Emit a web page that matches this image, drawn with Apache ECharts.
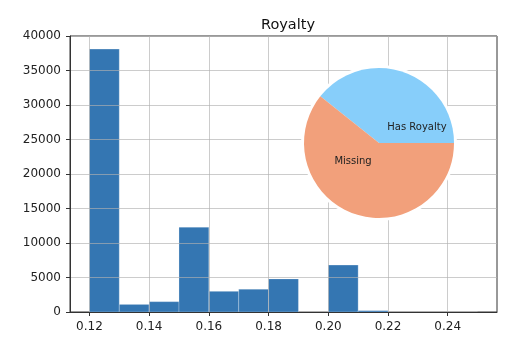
<!DOCTYPE html>
<html>
<head>
<meta charset="utf-8">
<script src="https://cdn.jsdelivr.net/npm/echarts@6/dist/echarts.min.js"></script>
<style>html,body{margin:0;padding:0;background:#fff}#c{width:531px;height:346px}</style>
</head>
<body>
<div id="c"></div>
<script>
const binEdges = [0.12,0.13,0.14,0.15,0.16,0.17,0.18,0.19,0.20,0.21,0.22,0.23,0.24,0.25];
const binCounts = [38100,1100,1500,12300,3000,3300,4800,0,6800,200,0,0,0];
const xTicks = [0.12,0.14,0.16,0.18,0.20,0.22,0.24];
const pieNames = ['Has Royalty','Missing'];
const pieValues = [71100,109800];
const titleText = 'Royalty';

const histData = binCounts.map((c,i)=>[binEdges[i], binEdges[i+1], c]);
const font = 'DejaVu Sans';
const chart = echarts.init(document.getElementById('c'), null, {renderer:'canvas'});
const lo = binEdges[0], hi = binEdges[binEdges.length-1], pad = (hi-lo)*0.05;
const labelOffsets = [[31,4],[-19,-1]];

chart.setOption({
  animation:false,
  backgroundColor:'#fff',
  title:{text:titleText, left:283, top:13, textAlign:'center',
    textStyle:{fontFamily:font, fontSize:14.5, fontWeight:'normal', color:'#111'}},
  grid:{left:70, right:34, top:36, bottom:34, show:true, borderColor:'#333', borderWidth:1, backgroundColor:'transparent'},
  xAxis:{type:'value', min:lo-pad, max:hi+pad, z:3,
    axisLine:{show:true, onZero:false, lineStyle:{color:'#333', width:1}},
    axisTick:{show:true, length:4, customValues:xTicks, lineStyle:{color:'#333'}},
    axisLabel:{customValues:xTicks, margin:9, fontFamily:font, fontSize:12, color:'#222', formatter:v=>v.toFixed(2)},
    splitLine:{show:true, lineStyle:{color:'rgba(176,176,176,0.65)', width:1}}},
  yAxis:{type:'value', min:0, max:40000, interval:5000, z:3,
    axisLine:{show:true, lineStyle:{color:'#333', width:1}},
    axisTick:{show:true, length:4, lineStyle:{color:'#333'}},
    axisLabel:{margin:9, fontFamily:font, fontSize:12, color:'#222', formatter:v=>String(v)},
    splitLine:{show:true, lineStyle:{color:'rgba(176,176,176,0.65)', width:1}}},
  series:[
    {type:'custom', z:2, data:histData, encode:{x:[0,1], y:2},
     renderItem:(params, api)=>{
       const p0 = api.coord([api.value(0), api.value(2)]);
       const p1 = api.coord([api.value(1), 0]);
       return {type:'rect', shape:{x:p0[0], y:p0[1], width:p1[0]-p0[0], height:p1[1]-p0[1]},
         style:{fill:'#3476b2', stroke:'rgba(255,255,255,0.25)', lineWidth:1}};
     }},
    {type:'pie', z:5, silent:true, center:[379,143], radius:[0,78], startAngle:0, clockwise:false,
     data:[{value:1, name:'halo'}], itemStyle:{color:'#fff'}, label:{show:false}, labelLine:{show:false}},
    {type:'pie', z:6, silent:true, center:[379,143], radius:[0,75], startAngle:0, clockwise:false,
     data:pieNames.map((n,i)=>({name:n, value:pieValues[i], itemStyle:{color:i===0?'#87CEFA':'#F2A07B'}})),
     label:{show:false}, labelLine:{show:false}},
    {type:'pie', z:7, silent:true, center:[379,143], radius:[0,36], startAngle:0, clockwise:false,
     data:pieNames.map((n,i)=>({name:n, value:pieValues[i], label:{offset:labelOffsets[i]}})),
     itemStyle:{color:'rgba(0,0,0,0)'},
     label:{show:true, position:'inside', formatter:'{b}', fontFamily:font, fontSize:10, color:'#222'},
     labelLine:{show:false}}
  ]
});
</script>
</body>
</html>
